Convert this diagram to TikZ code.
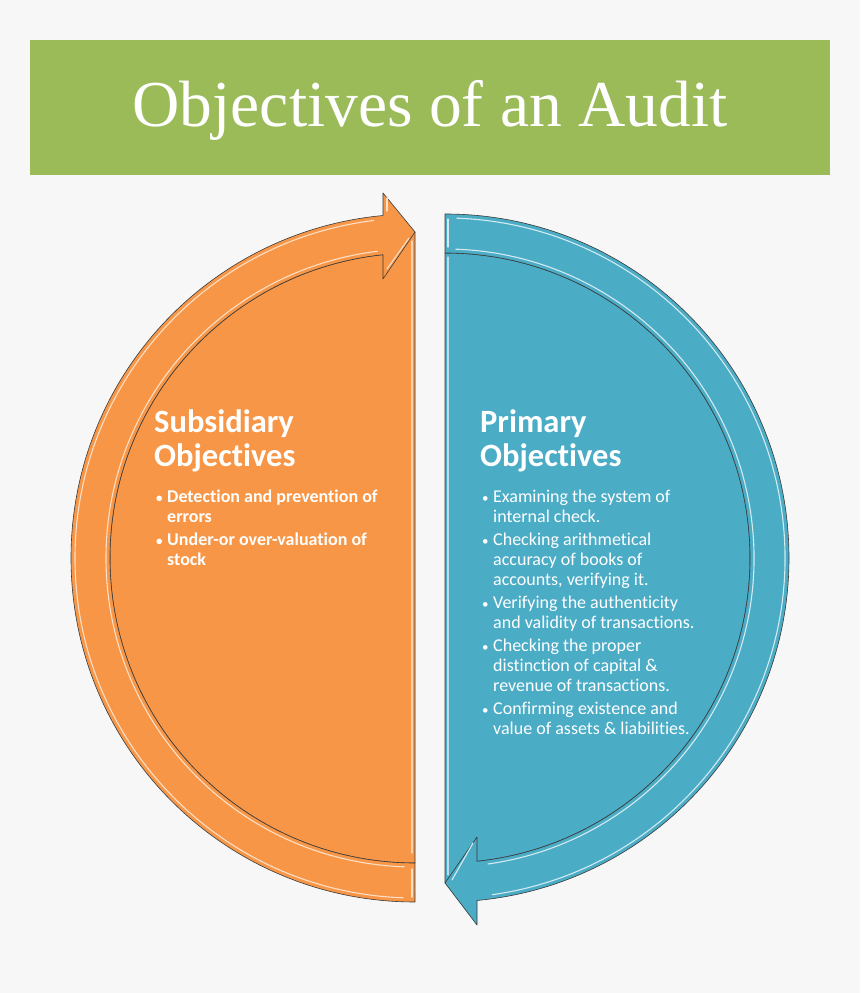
\documentclass[tikz,border=0pt]{standalone}
\usepackage{fontspec}
\setmainfont{Carlito}[Ligatures=NoCommon]
\newfontfamily\titlefont{Liberation Serif}
\definecolor{bgcol}{HTML}{F7F7F7}
\definecolor{bannergreen}{HTML}{9BBB59}
\definecolor{subsorange}{HTML}{F79646}
\definecolor{primblue}{HTML}{4BACC6}
\definecolor{edgegray}{HTML}{3A3A3A}
\newcommand{\bul}{\makebox[11pt][l]{\raisebox{0.5pt}{\fontsize{13}{13}\selectfont\textbullet}}}
\newcommand{\cont}{\hspace*{11pt}}
\begin{document}
\begin{tikzpicture}[x=1pt, y=1pt,
    every node/.style={inner sep=0pt, text=white},
    heading/.style={anchor=base west, align=left, font=\fontsize{32.5}{34}\selectfont\bfseries},
    itemlist/.style={anchor=base west, align=left, font=\fontsize{18}{20}\selectfont},
    subitems/.style={itemlist, font=\fontsize{18}{20}\selectfont\bfseries},
    shell/.style={draw=edgegray, line width=0.6pt, line join=round},
    gloss/.style={line width=1.1pt, line cap=round}]
    \useasboundingbox (0,0) rectangle (860,993);
    \fill[bgcol] (0,0) rectangle (860,993);
    % title banner
    \fill[bannergreen] (30,818) rectangle (830,953);
    \node[font=\titlefont\fontsize{65.5}{70}\selectfont, anchor=base] (title) at (430,866) {Objectives of an Audit};

    \coordinate (oc) at (415,435);
    \coordinate (bc) at (445,435);

    % orange half, arrow head on top
    \filldraw[shell, fill=subsorange] (415,130) arc[start angle=270, end angle=96.02, radius=305] -- (415,761) -- cycle;
    \filldraw[shell, fill=subsorange] (415,91) arc[start angle=270, end angle=95.34, radius=344]
        -- (383,800) -- (415,761) -- (383,714) -- (383,738.3)
        arc[start angle=96.02, end angle=270, radius=305] -- cycle;
    \foreach \r in {340,309} {
        \draw[gloss, subsorange!30!white] (oc) ++(268:\r) arc[start angle=268, end angle=97, radius=\r];
    }
    \draw[gloss, subsorange!30!white] (412,96) -- (412,124);
    \draw[gloss, subsorange!45!white] (412,140) -- (412,752);
    \draw[gloss, subsorange!30!white] (387,795) -- (387,782);
    \draw[gloss, subsorange!30!white] (387,724) -- (409,755);

    % blue half, arrow head at bottom
    \filldraw[shell, fill=primblue] (445,740) arc[start angle=90, end angle=-83.98, radius=305] -- (445,110) -- cycle;
    \filldraw[shell, fill=primblue] (445,779) arc[start angle=90, end angle=-84.66, radius=344]
        -- (477,68) -- (445,110) -- (477,156) -- (477,131.7)
        arc[start angle=-83.98, end angle=90, radius=305] -- cycle;
    \foreach \r in {340,309} {
        \draw[gloss, primblue!25!white] (bc) ++(-82:\r) arc[start angle=-82, end angle=88, radius=\r];
    }
    \draw[gloss, primblue!25!white] (448,774) -- (448,746);
    \draw[gloss, primblue!40!white] (448,736) -- (448,118);
    \draw[gloss, primblue!25!white] (473,150) -- (452,113);

    % texts
    \node[heading] (subshead) at (154,526) {Subsidiary\\Objectives};
    \node[subitems] (sublist) at (156,427) {\bul Detection and prevention of\\
        \cont errors\\[3pt]
        \bul Under-or over-valuation of\\
        \cont stock};
    \node[heading] (primhead) at (480,526) {Primary\\Objectives};
    \node[itemlist] (primlist) at (482,258) {\bul Examining the system of\\
        \cont internal check.\\[3pt]
        \bul Checking arithmetical\\
        \cont accuracy of books of\\
        \cont accounts, verifying it.\\[3pt]
        \bul Verifying the authenticity\\
        \cont and validity of transactions.\\[3pt]
        \bul Checking the proper\\
        \cont distinction of capital \&\\
        \cont revenue of transactions.\\[3pt]
        \bul Confirming existence and\\
        \cont value of assets \& liabilities.};
\end{tikzpicture}
\end{document}
